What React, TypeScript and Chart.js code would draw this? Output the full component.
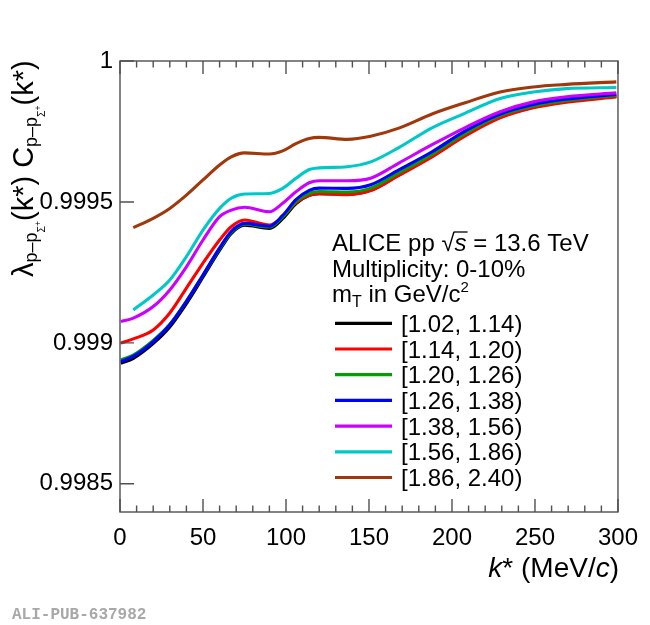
import React, { useEffect, useRef } from "react";
import { Chart, registerables } from "chart.js";

Chart.register(...registerables);

// k* (MeV/c) sampling points
const kStar = [0.5, 8, 20, 30, 40, 50, 60, 67, 75, 90, 98, 106, 114, 120, 137, 151, 168, 188, 208, 229, 249, 269, 299];

// mT bins (GeV/c^2)
const mtBins = ["[1.02, 1.14)", "[1.14, 1.20)", "[1.20, 1.26)", "[1.26, 1.38)", "[1.38, 1.56)", "[1.56, 1.86)", "[1.86, 2.40)"];
const lineColors = ["#000000", "#ff0000", "#00a000", "#0000ff", "#cc00ff", "#00c8c8", "#a0380c"];

// lambda * C(k*) per mT bin
const corr_102_114 = [0.998928, 0.998946, 0.998999, 0.999058, 0.999141, 0.999235, 0.99933, 0.999389, 0.999418, 0.999407, 0.999442, 0.999495, 0.999524, 0.99953, 0.999528, 0.999542, 0.999597, 0.999664, 0.999738, 0.999802, 0.999837, 0.999857, 0.999875];
const corr_114_120 = [0.998999, 0.999014, 0.999046, 0.999106, 0.999194, 0.999283, 0.999365, 0.999412, 0.999436, 0.999418, 0.999448, 0.999497, 0.999524, 0.999529, 0.999526, 0.99954, 0.999594, 0.99966, 0.999734, 0.999798, 0.999834, 0.999854, 0.999872];
const corr_120_126 = [0.99894, 0.998957, 0.999009, 0.999066, 0.999148, 0.99924, 0.999334, 0.999392, 0.999421, 0.999411, 0.999447, 0.999501, 0.999531, 0.999537, 0.999535, 0.999549, 0.999603, 0.999669, 0.999743, 0.999806, 0.99984, 0.99986, 0.999878];
const corr_126_138 = [0.998934, 0.998952, 0.999004, 0.999064, 0.999147, 0.999241, 0.999337, 0.999395, 0.999424, 0.999414, 0.999452, 0.999508, 0.999541, 0.999549, 0.999548, 0.999561, 0.999614, 0.999678, 0.999752, 0.999812, 0.999846, 0.999865, 0.999881];
const corr_138_156 = [0.999076, 0.999088, 0.999129, 0.999188, 0.99927, 0.999365, 0.999448, 0.999471, 0.999481, 0.999465, 0.999495, 0.999536, 0.999568, 0.999575, 0.999575, 0.999584, 0.999638, 0.999703, 0.999764, 0.99982, 0.999855, 0.999873, 0.999887];
const corr_156_186 = [null, 0.999117, 0.99917, 0.999223, 0.999306, 0.9994, 0.999477, 0.999513, 0.999528, 0.99953, 0.999548, 0.999584, 0.999615, 0.999621, 0.999625, 0.999642, 0.999693, 0.999763, 0.999815, 0.999867, 0.99989, 0.999902, 0.999906];
const corr_186_240 = [null, 0.999409, 0.999442, 0.999477, 0.999524, 0.999578, 0.999631, 0.99966, 0.999674, 0.99967, 0.999681, 0.999707, 0.999725, 0.999729, 0.999722, 0.999733, 0.999762, 0.999812, 0.999852, 0.99989, 0.999908, 0.999917, 0.999926];

const seriesValues = [corr_102_114, corr_114_120, corr_120_126, corr_126_138, corr_138_156, corr_156_186, corr_186_240];

const xMajorTicks = [0, 50, 100, 150, 200, 250, 300];
const yMajorTicks = [0.9985, 0.999, 0.9995, 1];

const headerLine2 = "Multiplicity: 0-10%";
const watermark = "ALI-PUB-637982";

const FONT = '"Liberation Sans", Arial, Helvetica, sans-serif';
const FRAME = "#505050";

type Seg = { t: string; size: number; dy?: number; italic?: boolean };

function segFont(s: Seg) {
  return `${s.italic ? "italic " : ""}${s.size}px ${FONT}`;
}
function segsWidth(ctx: CanvasRenderingContext2D, segs: Seg[]) {
  let w = 0;
  for (const s of segs) {
    ctx.font = segFont(s);
    w += ctx.measureText(s.t).width;
  }
  return w;
}
function drawSegs(ctx: CanvasRenderingContext2D, segs: Seg[], x: number, y: number) {
  let cx = x;
  const spans: number[][] = [];
  for (const s of segs) {
    ctx.font = segFont(s);
    ctx.fillText(s.t, cx, y + (s.dy || 0));
    const w = ctx.measureText(s.t).width;
    spans.push([cx, cx + w]);
    cx += w;
  }
  return spans;
}

const overlayPlugin = {
  id: "overlay",
  afterDraw(chart: any) {
    const ctx: CanvasRenderingContext2D = chart.ctx;
    const { left, right, top, bottom } = chart.chartArea;
    const xs = chart.scales.x;
    const ys = chart.scales.y;
    ctx.save();

    // frame
    ctx.strokeStyle = FRAME;
    ctx.lineWidth = 1.4;
    ctx.strokeRect(left, top, right - left, bottom - top);

    // x ticks (bottom + top), minor every 10
    ctx.beginPath();
    for (let v = xs.min; v <= xs.max + 1e-9; v += 10) {
      const px = xs.getPixelForValue(v);
      const major = xMajorTicks.includes(Math.round(v));
      const len = major ? 13 : 6.5;
      ctx.moveTo(px, bottom);
      ctx.lineTo(px, bottom - len);
      ctx.moveTo(px, top);
      ctx.lineTo(px, top + len);
    }
    for (const v of yMajorTicks) {
      const py = ys.getPixelForValue(v);
      ctx.moveTo(left, py);
      ctx.lineTo(left + 14, py);
    }
    ctx.stroke();

    ctx.fillStyle = "#000";
    ctx.textBaseline = "alphabetic";
    ctx.textAlign = "left";

    // y-axis title (rotated)
    const ySegs: Seg[] = [
      { t: "λ", size: 29 },
      { t: "p–p", size: 18, dy: 4 },
      { t: "Σ", size: 10.5, dy: 12 },
      { t: "+", size: 8.5, dy: 8 },
      { t: "(k*)", size: 29 },
      { t: " C", size: 29 },
      { t: "p–p", size: 18, dy: 4 },
      { t: "Σ", size: 10.5, dy: 12 },
      { t: "+", size: 8.5, dy: 8 },
      { t: "(k*)", size: 29 },
    ];
    ctx.save();
    ctx.translate(33, 277);
    ctx.rotate(-Math.PI / 2);
    drawSegs(ctx, ySegs, 0, 0);
    ctx.restore();

    // x-axis title
    const xSegs: Seg[] = [
      { t: "k", size: 28, italic: true },
      { t: "* (MeV/", size: 28 },
      { t: "c", size: 28, italic: true },
      { t: ")", size: 28 },
    ];
    const xw = segsWidth(ctx, xSegs);
    drawSegs(ctx, xSegs, 619 - xw, 577);

    // header text
    const hx = 332;
    const l1: Seg[] = [
      { t: "ALICE pp ", size: 24 },
      { t: "√", size: 24 },
      { t: "s", size: 24, italic: true },
      { t: " = 13.6 TeV", size: 24 },
    ];
    const spans = drawSegs(ctx, l1, hx, 251);
    ctx.beginPath();
    ctx.lineWidth = 1.3;
    ctx.strokeStyle = "#000";
    ctx.moveTo(spans[1][1] - 1, 251 - 19);
    ctx.lineTo(spans[2][1] + 1, 251 - 19);
    ctx.stroke();

    drawSegs(ctx, [{ t: headerLine2, size: 24 }], hx, 276.5);
    drawSegs(
      ctx,
      [
        { t: "m", size: 24 },
        { t: "T", size: 16, dy: 5 },
        { t: " in GeV/c", size: 24 },
        { t: "2", size: 15, dy: -10 },
      ],
      hx,
      301.5
    );

    // legend
    const ds = chart.data.datasets;
    for (let i = 0; i < ds.length; i++) {
      const cy = 323.3 + i * 25.7;
      ctx.beginPath();
      ctx.strokeStyle = ds[i].borderColor;
      ctx.lineWidth = 3.2;
      ctx.moveTo(335, cy);
      ctx.lineTo(392, cy);
      ctx.stroke();
      ctx.fillStyle = "#000";
      ctx.font = `24px ${FONT}`;
      ctx.fillText(ds[i].label, 401, cy + 8.5);
    }

    // watermark
    ctx.fillStyle = "#a8a8a8";
    ctx.font = `bold 16px "Liberation Mono", "DejaVu Sans Mono", monospace`;
    ctx.fillText(watermark, 12, 619);

    ctx.restore();
  },
};

export default function App() {
  const ref = useRef<HTMLCanvasElement | null>(null);

  useEffect(() => {
    const canvas = ref.current;
    if (!canvas) return;
    const datasets = seriesValues.map((vals, i) => ({
      label: mtBins[i],
      data: kStar.map((k, j) => ({ x: k, y: vals[j] })),
      borderColor: lineColors[i],
      backgroundColor: lineColors[i],
      borderWidth: i === 0 ? 3.6 : 3.1,
      pointRadius: 0,
      fill: false,
      cubicInterpolationMode: "monotone" as const,
      order: seriesValues.length - i,
    }));

    const chart = new Chart(canvas, {
      type: "line",
      data: { datasets },
      options: {
        animation: false,
        responsive: false,
        devicePixelRatio: 1,
        layout: { padding: { left: 0, right: 32, top: 61, bottom: 0 } },
        plugins: {
          legend: { display: false },
          tooltip: { enabled: false },
        },
        scales: {
          x: {
            type: "linear",
            min: 0,
            max: 300,
            grid: { display: false, drawTicks: false },
            border: { display: false },
            afterFit: (s: any) => {
              s.height = 113;
            },
            afterBuildTicks: (s: any) => {
              s.ticks = xMajorTicks.map((v) => ({ value: v }));
            },
            ticks: {
              autoSkip: false,
              maxRotation: 0,
              padding: 12,
              color: "#000",
              font: { family: FONT, size: 24 },
              callback: (v: any) => String(v),
            },
          },
          y: {
            type: "linear",
            min: 0.9984,
            max: 1,
            grid: { display: false, drawTicks: false },
            border: { display: false },
            afterFit: (s: any) => {
              s.width = 120;
            },
            afterBuildTicks: (s: any) => {
              s.ticks = yMajorTicks.map((v) => ({ value: v }));
            },
            ticks: {
              padding: 7,
              color: "#000",
              font: { family: FONT, size: 24 },
              callback: (v: any) => String(Number(Number(v).toFixed(4))),
            },
          },
        },
      },
      plugins: [overlayPlugin],
    });
    return () => chart.destroy();
  }, []);

  return (
    <div style={{ position: "absolute", left: 0, top: 0, width: 650, height: 625, background: "#fff" }}>
      <canvas ref={ref} width={650} height={625} style={{ width: 650, height: 625, display: "block" }} />
    </div>
  );
}
